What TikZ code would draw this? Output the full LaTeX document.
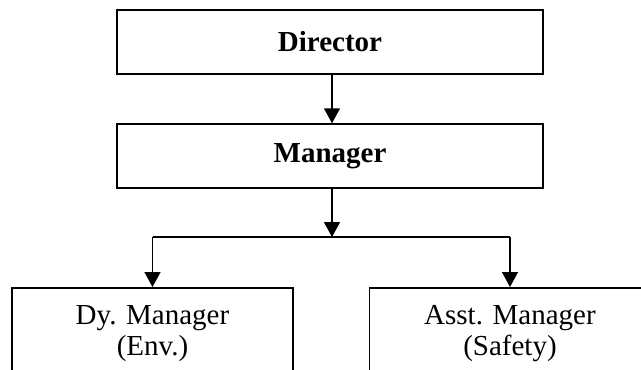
\documentclass[tikz,border=0pt]{standalone}
\usepackage{fontspec}
\setmainfont{Liberation Serif}
\usetikzlibrary{arrows.meta}
\begin{document}
\begin{tikzpicture}[x=1pt,y=1pt,
  topbox/.style={draw, line width=1.5pt, minimum width=426pt, minimum height=64pt, inner sep=0pt,
    font=\fontsize{29}{31}\selectfont\bfseries},
  lowbox/.style={draw, line width=1.5pt, minimum width=281pt, minimum height=140pt, inner sep=0pt, anchor=north},
  lowtext/.style={font=\fontsize{29}{31}\selectfont, align=center, inner sep=0pt, anchor=north},
  conn/.style={line width=1.5pt},
  arr/.style={line width=1.5pt, -{Triangle[width=16pt,length=15pt]}}]
\useasboundingbox (0,0) rectangle (641,-370);
\clip (0,0) rectangle (641,-370);
\node[topbox] (dir) at (330,-42) {Director};
\node[topbox] (man) at (330,-156) {Manager};
\node[lowbox] (dy) at (152.5,-287) {};
\node[lowbox] (as) at (510,-287) {};
\node[lowtext] (dyt) at (152.5,-305) {Dy. Manager\\(Env.)};
\node[lowtext] (ast) at (510,-305) {Asst. Manager\\(Safety)};
\coordinate (split) at (332,-237);
\draw[arr] ([xshift=2pt]dir.south) -- ([xshift=2pt]man.north);
\draw[arr] ([xshift=2pt]man.south) -- (split);
\draw[conn] (dy.north |- split) -- (as.north |- split);
\draw[arr] (dy.north |- split) -- (dy.north);
\draw[arr] (as.north |- split) -- (as.north);
\end{tikzpicture}
\end{document}
